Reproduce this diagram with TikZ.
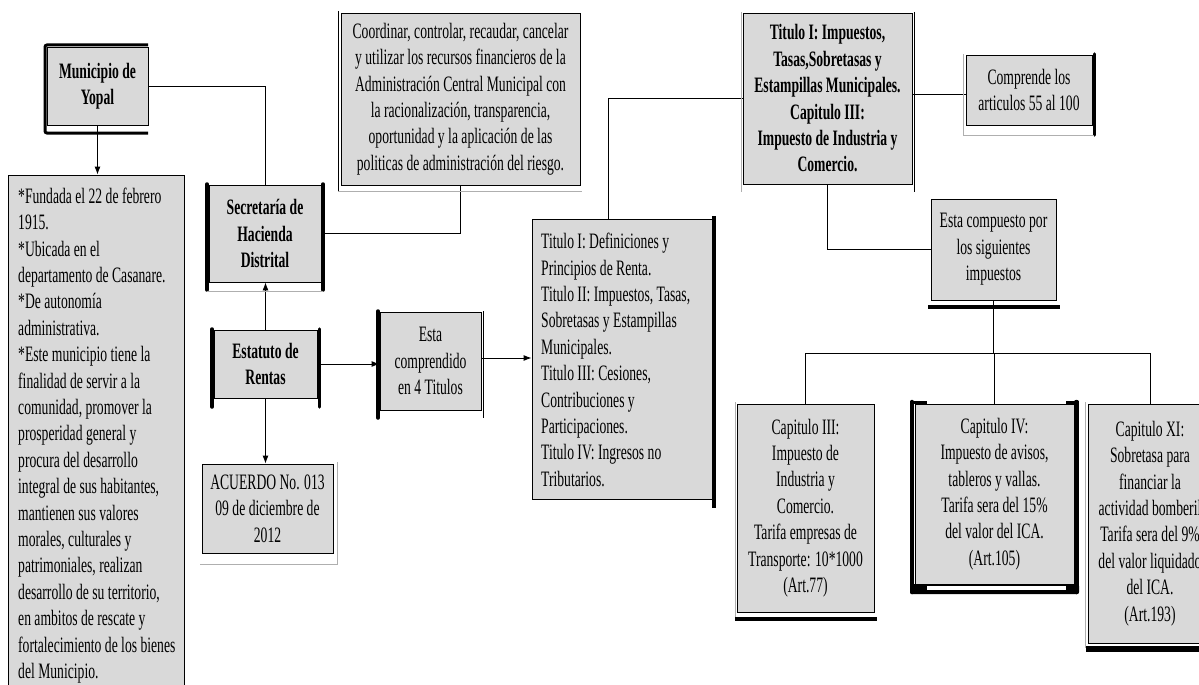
\documentclass[tikz,border=0pt]{standalone}
\usepackage{fontspec}
\setmainfont{Liberation Serif}[FakeStretch=0.62]
\usetikzlibrary{arrows.meta}
\definecolor{boxgray}{RGB}{217,217,217}
\definecolor{linegray}{RGB}{175,175,175}
\begin{document}
\begin{tikzpicture}[x=1pt,y=-1pt,
  every node/.style={font=\fontsize{22}{26.4}\selectfont},
  box/.style={draw=black, line width=0.9pt, fill=boxgray, inner sep=0pt, align=center},
  boldbox/.style={box, font=\fontsize{22}{26.4}\selectfont\bfseries},
  conn/.style={draw=black, line width=0.9pt},
  arr/.style={conn, -{Latex[length=8pt,width=6pt]}},
  thickbar/.style={draw=black, line width=#1},
  faint/.style={draw=linegray, line width=0.9pt}]
\useasboundingbox (0,0) rectangle (1199,685);
\clip (0,0) rectangle (1199,685);

% ---------- boxes ----------
\node[boldbox, minimum width=101, minimum height=78] (muni) at (97.5,86) {Municipio de\\Yopal};
\node[box, minimum width=176, minimum height=521] (desc) at (96,435.5) {};
\node[anchor=west, align=left, inner sep=0pt] (desctext) at (18,435.5) {*Fundada el 22 de febrero\\
1915.\\
*Ubicada en el\\
departamento de Casanare.\\
*De autonomía\\
administrativa.\\
*Este municipio tiene la\\
finalidad de servir a la\\
comunidad, promover la\\
prosperidad general y\\
procura del desarrollo\\
integral de sus habitantes,\\
mantienen sus valores\\
morales, culturales y\\
patrimoniales, realizan\\
desarrollo de su territorio,\\
en ambitos de rescate y\\
fortalecimiento de los bienes\\
del Municipio.};
\node[boldbox, minimum width=112, minimum height=97] (secre) at (265,233.5) {Secretaría de\\Hacienda\\Distrital};
\node[box, minimum width=239, minimum height=172] (coord) at (460.5,99) {Coordinar, controlar, recaudar, cancelar\\
y utilizar los recursos financieros de la\\
Administración Central Municipal con\\
la racionalización, transparencia,\\
oportunidad y la aplicación de las\\
politicas de administración del riesgo.};
\node[boldbox, minimum width=103, minimum height=68] (estat) at (265.5,364) {Estatuto de\\Rentas};
\node[box, minimum width=131, minimum height=89] (acuer) at (267.5,508.5) {ACUERDO No. 013\\09 de diciembre de\\2012};
\node[box, minimum width=101, minimum height=98] (compr) at (430.5,361) {Esta\\comprendido\\en 4 Titulos};
\node[box, minimum width=180, minimum height=280] (titulos) at (622,359) {};
\node[anchor=west, align=left, inner sep=0pt] (titulostext) at (541,360) {Titulo I: Definiciones y\\
Principios de Renta.\\
Titulo II: Impuestos, Tasas,\\
Sobretasas y Estampillas\\
Municipales.\\
Titulo III: Cesiones,\\
Contribuciones y\\
Participaciones.\\
Titulo IV: Ingresos no\\
Tributarios.};
\node[boldbox, minimum width=169, minimum height=171] (tit1) at (827.5,98.5) {Titulo I: Impuestos,\\
Tasas,Sobretasas y\\
Estampillas Municipales.\\
Capitulo III:\\
Impuesto de Industria y\\
Comercio.};
\node[box, minimum width=126, minimum height=70] (compre) at (1029,90) {Comprende los\\articulos 55 al 100};
\node[box, minimum width=125, minimum height=101] (compu) at (993.5,249.5) {Esta compuesto por\\los siguientes\\impuestos};
\node[box, minimum width=137, minimum height=208] (cap3) at (805.5,508) {Capitulo III:\\Impuesto de\\Industria y\\Comercio.\\Tarifa empresas de\\Transporte: 10*1000\\(Art.77)};
\node[box, minimum width=159, minimum height=180] (cap4) at (994.5,494) {Capitulo IV:\\Impuesto de avisos,\\tableros y vallas.\\Tarifa sera del 15\%\\del valor del ICA.\\(Art.105)};
\node[box, minimum width=124, minimum height=239] (cap11) at (1150,523.5) {Capitulo XI:\\Sobretasa para\\financiar la\\actividad bomberil\\Tarifa sera del 9\%\\del valor liquidado\\del ICA.\\(Art.193)};

% ---------- connectors ----------
\draw[arr] (muni.south) -- (muni.south |- desc.north);
\draw[conn] (muni.east) -| (secre.north);
\draw[conn] (secre.east) -| (coord.south);
\draw[arr] (estat.north) -- (estat.north |- secre.south);
\draw[arr] (estat.south) -- (estat.south |- acuer.north);
\draw[arr] (estat.east) -- (estat.east -| compr.west);
\draw[arr] ([yshift=3pt]compr.east) -- ([yshift=3pt]compr.east -| titulos.west);
\draw[conn] ([xshift=-14pt]titulos.north) |- (tit1.west);
\draw[conn] ([yshift=4pt]tit1.east) -- ([yshift=4pt]tit1.east -| compre.west);
\draw[conn] (tit1.south) |- (compu.west);
\coordinate (bus) at ([yshift=-53pt]compu.south);
\draw[conn, line width=1.6pt] (compu.south) -- (bus);
\draw[conn] (cap3.north) |- (bus) -| (cap11.north);
\draw[conn] (cap4.north) -- (cap4.north |- bus);

% ---------- frame decorations ----------
\draw[thickbar=3pt, rounded corners=2pt] (148,45) -- (45,45) -- (45,133) -- (148,133);
\draw[thickbar=3.5pt, line cap=round] (207,184) -- (207,290);
\draw[thickbar=3.5pt, line cap=round] (323,184) -- (323,290);
\draw[faint] (207,291) -- (323,291);
\draw[thickbar=1.6pt] (338.5,11) -- (338.5,192);
\draw[faint] (338,191) -- (582,191);
\draw[thickbar=3.5pt, line cap=round] (212,329) -- (212,407);
\draw[thickbar=3.5pt, line cap=round] (319.5,329) -- (319.5,407);
\draw[thickbar=3.5pt, line cap=round] (378,311) -- (378,418);
\draw[thickbar=1pt] (483,311) -- (483,418);
\draw[faint] (337,462) -- (337,564) -- (200,564);
\draw[thickbar=4pt] (714,216) -- (714,508);
\draw[faint] (741,12) -- (741,192);
\draw[thickbar=1pt] (914,12) -- (914,192);
\draw[thickbar=3.5pt, line cap=round] (1094.5,54) -- (1094.5,135);
\draw[faint] (963,54) -- (963,135) -- (1094,135);
\draw[thickbar=4pt] (928,307) -- (1060,307);
\draw[thickbar=4.5pt] (735,619) -- (877,619);
\draw[faint] (735,402) -- (735,617);
\draw[thickbar=4.5pt, line cap=round] (912,402) -- (912,592);
\draw[thickbar=4.5pt, line cap=round] (1076.5,402) -- (1076.5,592);
\fill[black, rounded corners=2pt] (910,584) rectangle (1079,594);
\fill[white] (927,586) rectangle (1066,590);
\draw[thickbar=3.5pt] (910,402.5) -- (927,402.5);
\draw[thickbar=3.5pt] (1066,402.5) -- (1079,402.5);
\draw[thickbar=6pt] (1086,649) -- (1205,649);
\draw[faint] (1085.5,402) -- (1085.5,648);
\end{tikzpicture}
\end{document}
